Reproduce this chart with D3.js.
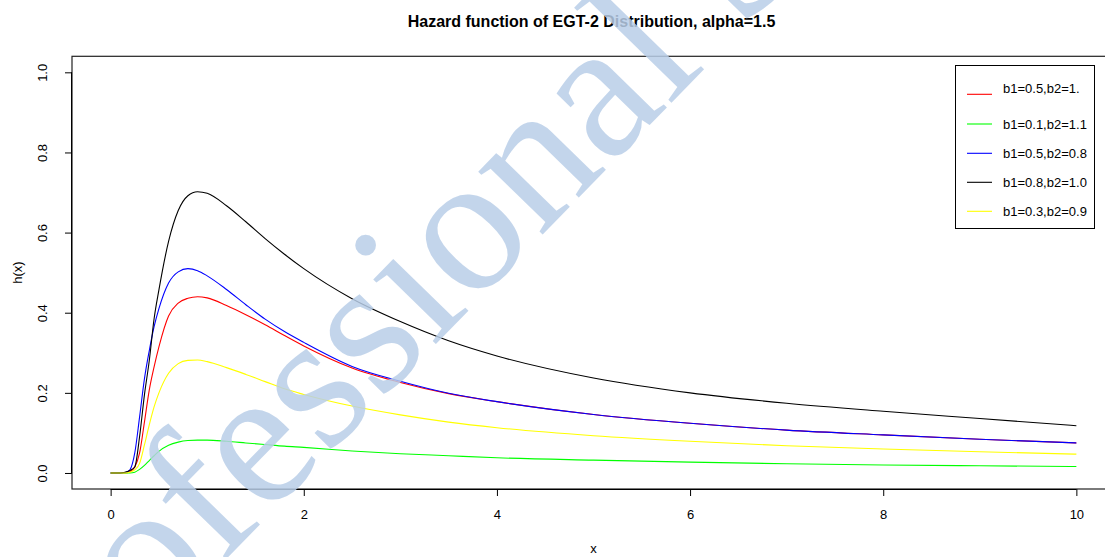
<!DOCTYPE html>
<html><head><meta charset="utf-8">
<script src="https://cdn.jsdelivr.net/npm/d3@7"></script>
<style>
html,body{margin:0;padding:0;background:#fff;overflow:hidden;}
svg{display:block;font-family:"Liberation Sans",Arial,sans-serif;}
</style></head>
<body>
<svg id="c" width="1105" height="557"></svg>
<script>
// ---- data ----
const title = "Hazard function of EGT-2 Distribution, alpha=1.5";
const xLabel = "x";
const yLabel = "h(x)";
const xTicks = [0, 2, 4, 6, 8, 10];
const yTicks = [0.0, 0.2, 0.4, 0.6, 0.8, 1.0];
const yTickLabels = ["0.0", "0.2", "0.4", "0.6", "0.8", "1.0"];
const xGrid = [0, 0.1, 0.15, 0.2, 0.25, 0.3, 0.35, 0.4, 0.45, 0.5, 0.6, 0.7, 0.8, 0.9, 1.0, 1.2, 1.4, 1.6, 1.8, 2, 2.5, 3, 3.5, 4, 5, 6, 7, 8, 9, 10];
const redY    = [0, 0, 0, 0.003, 0.015, 0.05, 0.127, 0.207, 0.265, 0.315, 0.392, 0.424, 0.436, 0.44, 0.437, 0.418, 0.395, 0.37, 0.343, 0.317, 0.262, 0.226, 0.198, 0.178, 0.146, 0.124, 0.107, 0.095, 0.084, 0.075];
const greenY  = [0, 0, 0, 0, 0.002, 0.009, 0.019, 0.031, 0.043, 0.054, 0.069, 0.077, 0.081, 0.082, 0.082, 0.079, 0.075, 0.071, 0.067, 0.064, 0.055, 0.048, 0.043, 0.038, 0.032, 0.027, 0.023, 0.02, 0.018, 0.016];
const blueY   = [0, 0, 0.001, 0.008, 0.05, 0.14, 0.235, 0.305, 0.365, 0.41, 0.474, 0.502, 0.51, 0.505, 0.492, 0.458, 0.42, 0.384, 0.353, 0.326, 0.266, 0.229, 0.199, 0.178, 0.146, 0.124, 0.107, 0.095, 0.084, 0.075];
const blackY  = [0, 0, 0.002, 0.006, 0.015, 0.091, 0.195, 0.28, 0.385, 0.457, 0.578, 0.655, 0.692, 0.702, 0.698, 0.667, 0.627, 0.585, 0.546, 0.51, 0.435, 0.378, 0.33, 0.292, 0.237, 0.2, 0.174, 0.154, 0.136, 0.118];
const yellowY = [0, 0, 0, 0.002, 0.008, 0.024, 0.07, 0.12, 0.165, 0.2, 0.249, 0.273, 0.281, 0.282, 0.278, 0.263, 0.246, 0.228, 0.21, 0.196, 0.167, 0.145, 0.127, 0.113, 0.093, 0.079, 0.068, 0.06, 0.053, 0.047];
const seriesNames  = ["b1=0.5,b2=1.", "b1=0.1,b2=1.1", "b1=0.5,b2=0.8", "b1=0.8,b2=1.0", "b1=0.3,b2=0.9"];
const seriesColors = ["#ff0000", "#00ff00", "#0000ff", "#000000", "#ffff00"];
const seriesValues = [redY, greenY, blueY, blackY, yellowY];
const watermark = "Professional S";

// ---- drawing ----
const svg = d3.select("#c");
const L = 72, R = 1115, T = 56.3, B = 489;
const x = d3.scaleLinear().domain([-0.4, 10.4]).range([L, R]);
const y = d3.scaleLinear().domain([-0.04, 1.04]).range([B, T]);

svg.append("rect").attr("width",1105).attr("height",557).attr("fill","#fff");

// title
svg.append("text").attr("x", (L+R)/2 - 2).attr("y", 26.5).attr("text-anchor","middle")
  .attr("font-weight","bold").attr("font-size", 16).text(title);

// curves
const line = d3.line().x(d => x(d[0])).y(d => y(d[1])).curve(d3.curveMonotoneX);
seriesValues.forEach((vals, i) => {
  svg.append("path").datum(xGrid.map((xv, j) => [xv, vals[j]]))
    .attr("d", line).attr("fill","none").attr("stroke", seriesColors[i]).attr("stroke-width", 1.1);
});

// box
svg.append("rect").attr("x", L).attr("y", T).attr("width", R-L).attr("height", B-T)
  .attr("fill","none").attr("stroke","#222").attr("stroke-width",1.2);

// axes
const xAxis = d3.axisBottom(x).tickValues(xTicks).tickSize(7).tickPadding(14).tickSizeOuter(0);
const gx = svg.append("g").attr("transform", `translate(0,${B})`).call(xAxis);
gx.select(".domain").attr("d", `M${x(0)},0.5H${x(10)}`);
gx.selectAll("text").attr("font-size", 13).attr("font-family","Liberation Sans, Arial, sans-serif").attr("fill","#000");

const yAxis = d3.axisLeft(y).tickValues(yTicks).tickFormat((d,i) => yTickLabels[i]).tickSize(7).tickSizeOuter(0);
const gy = svg.append("g").attr("transform", `translate(${L},0)`).call(yAxis);
gy.select(".domain").attr("d", `M-0.5,${y(0)}V${y(1)}`);
gy.selectAll(".tick text").attr("font-size", 13).attr("font-family","Liberation Sans, Arial, sans-serif")
  .attr("fill","#000").attr("text-anchor","middle").attr("dy", null)
  .attr("x", 0).attr("y", 0)
  .attr("transform", "translate(-30,0) rotate(-90)").attr("dominant-baseline","central");

// axis labels
svg.append("text").attr("x", (L+R)/2).attr("y", 553).attr("text-anchor","middle").attr("font-size",13).text(xLabel);
svg.append("text").attr("transform", `translate(22,${(T+B)/2}) rotate(-90)`).attr("text-anchor","middle").attr("font-size",13).text(yLabel);

// legend
const lg = svg.append("g");
lg.append("rect").attr("x", 955.5).attr("y", 65.5).attr("width", 139).attr("height", 163)
  .attr("fill","#fff").attr("stroke","#000").attr("stroke-width",1);
const legY = [94.3, 124, 153.3, 182.3, 211.3];
const legTextShift = [-6, 0, 0, 0, 0];
seriesNames.forEach((n, i) => {
  lg.append("line").attr("x1", 967).attr("x2", 992).attr("y1", legY[i]).attr("y2", legY[i])
    .attr("stroke", seriesColors[i]).attr("stroke-width", 1.1);
  lg.append("text").attr("x", 1003).attr("y", legY[i] + legTextShift[i]).attr("dy","0.35em")
    .attr("font-size", 13).text(n);
});

// watermark
svg.append("text").attr("transform", "translate(30,760) rotate(-45.7)")
  .attr("font-family","Liberation Serif, Times New Roman, serif").attr("font-size", 196)
  .attr("fill","#b9cee8").attr("fill-opacity",0.85).text(watermark);
</script>
</body></html>
